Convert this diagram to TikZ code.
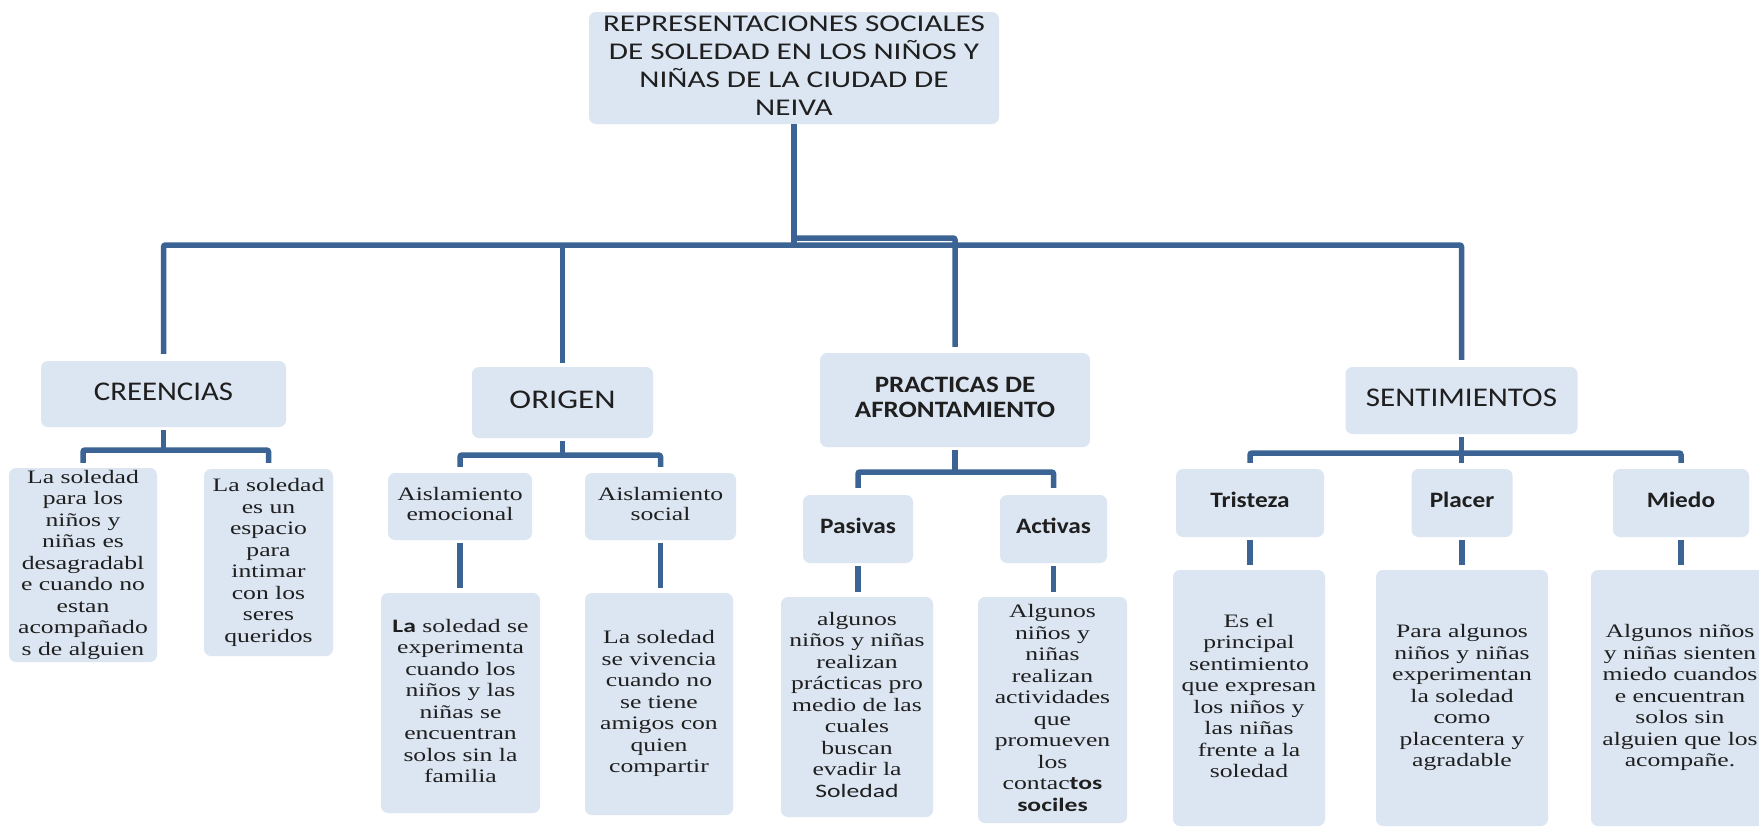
\documentclass[tikz,border=0pt]{standalone}
\usepackage{fontspec}
\usepackage{graphicx}
\setmainfont{Liberation Serif}
\newfontfamily\calibri{Carlito}
\definecolor{boxfill}{RGB}{220,230,242}
\definecolor{linec}{RGB}{59,99,148}
\newcommand{\sx}[2]{\scalebox{#1}[1]{\begin{tabular}{@{}c@{}}#2\end{tabular}}}
\tikzset{
  box/.style={fill=boxfill, draw=none, rounded corners=7pt, inner sep=0pt, text=black!88},
  conn/.style={draw=linec, line width=5.5pt, rounded corners=2pt},
  ttl/.style={font=\calibri\fontsize{24}{28}\selectfont},
  lvone/.style={font=\calibri\fontsize{27}{30}\selectfont},
  lvbold/.style={font=\calibri\bfseries\fontsize{23.5}{25}\selectfont},
  lvtwo/.style={font=\calibri\bfseries\fontsize{22}{24}\selectfont},
  leaf/.style={font=\fontsize{19}{21.5}\selectfont},
  sub/.style={font=\fontsize{19}{20}\selectfont},
}
\begin{document}
\begin{tikzpicture}[x=1pt,y=-1pt]
\useasboundingbox (0,0) rectangle (1759,828);
\clip (0,0) rectangle (1759,828);
\fill[white] (0,0) rectangle (1759,828);

% title
\node[box, ttl, minimum width=410pt, minimum height=112pt] (title) at (794,68)
  {\sx{1.3}{REPRESENTACIONES SOCIALES\\DE SOLEDAD EN  LOS NIÑOS Y\\NIÑAS DE LA CIUDAD DE\\NEIVA}};

% level one
\node[box, lvone, minimum width=245pt, minimum height=66pt] (cre) at (163.5,394) {\sx{1.14}{CREENCIAS}};
\node[box, lvone, minimum width=181pt, minimum height=71pt] (ori) at (562.5,402.5) {\sx{1.22}{ORIGEN}};
\node[box, lvbold, minimum width=270pt, minimum height=94pt] (pra) at (955,400) {\sx{1.15}{PRACTICAS DE\\AFRONTAMIENTO}};
\node[box, lvone, minimum width=232pt, minimum height=67pt] (sen) at (1461.5,400.5) {\sx{1.15}{SENTIMIENTOS}};

% creencias leaves
\node[box, leaf, minimum width=148pt, minimum height=194pt] (c1) at (83,565)
  {\sx{1.35}{La soledad\\para los\\niños y\\niñas es\\desagradabl\\e cuando  no\\estan\\acompañado\\s de alguien}};
\node[box, leaf, minimum width=129pt, minimum height=187pt] (c2) at (268.5,562.5)
  {\sx{1.35}{La soledad\\es un\\espacio\\para\\intimar\\con los\\seres\\queridos}};

% origen
\node[box, sub, minimum width=144pt, minimum height=67pt] (emo) at (460,506.5) {\sx{1.35}{Aislamiento\\emocional}};
\node[box, sub, minimum width=151pt, minimum height=67pt] (soc) at (660.5,506.5) {\sx{1.35}{Aislamiento\\social}};
\node[box, leaf, minimum width=159pt, minimum height=220pt] (emoL) at (460.5,703)
  {\sx{1.35}{{\calibri\bfseries La} soledad se\\experimenta\\cuando  los\\niños y las\\niñas se\\encuentran\\solos sin la\\familia}};
\node[box, leaf, minimum width=148pt, minimum height=222pt] (socL) at (659,704)
  {\sx{1.35}{La soledad\\se vivencia\\cuando no\\se tiene\\amigos con\\quien\\compartir}};

% practicas
\node[box, lvtwo, minimum width=110pt, minimum height=68pt] (pas) at (858,529) {\sx{1.15}{Pasivas}};
\node[box, lvtwo, minimum width=107pt, minimum height=68pt] (act) at (1053.5,529) {\sx{1.15}{Activas}};
\node[box, leaf, minimum width=152pt, minimum height=220pt] (pasL) at (857,707)
  {\sx{1.35}{algunos\\niños y niñas\\realizan\\prácticas pro\\medio de las\\cuales\\buscan\\evadir la\\{\calibri Soledad}}};
\node[box, leaf, minimum width=149pt, minimum height=226pt] (actL) at (1052.5,710)
  {\sx{1.35}{Algunos\\niños y\\niñas\\realizan\\actividades\\que\\promueven\\los\\contac{\calibri\bfseries tos}\\{\calibri\bfseries sociles}}};

% sentimientos
\node[box, lvtwo, minimum width=148pt, minimum height=68pt] (tri) at (1250,503) {\sx{1.15}{Tristeza}};
\node[box, lvtwo, minimum width=101pt, minimum height=68pt] (pla) at (1462,503) {\sx{1.15}{Placer}};
\node[box, lvtwo, minimum width=136pt, minimum height=68pt] (mie) at (1681,503) {\sx{1.15}{Miedo}};
\node[box, leaf, minimum width=152pt, minimum height=256pt] (triL) at (1249,698)
  {\sx{1.35}{Es el\\principal\\sentimiento\\que expresan\\los niños y\\las niñas\\frente a  la\\soledad}};
\node[box, leaf, minimum width=172pt, minimum height=256pt] (plaL) at (1462,698)
  {\sx{1.35}{Para algunos\\niños y niñas\\experimentan\\la soledad\\como\\placentera y\\agradable}};
\node[box, leaf, minimum width=178pt, minimum height=256pt] (mieL) at (1680,698)
  {\sx{1.35}{Algunos niños\\y niñas sienten\\miedo cuandos\\e encuentran\\solos sin\\alguien que los\\acompañe.}};

% main connectors
\coordinate (bus) at (0,245);
\coordinate (bustwo) at (0,238);
\draw[conn] ([yshift=7pt]cre.north) |- (sen.north |- bus) -- ([yshift=7pt]sen.north);
\draw[conn] (title.south) -- ([yshift=-2pt]title.south |- bus);
\draw[conn] ([yshift=4pt]ori.north) -- (ori.north |- bus);
\draw[conn] (title.south |- bustwo) -| ([yshift=6pt]pra.north);

% creencias subtree
\coordinate (ybc) at (0,450);
\draw[conn] ([yshift=-3pt]cre.south) -- (cre.south |- ybc);
\draw[conn] ([yshift=5pt]c1.north) |- (c2.north |- ybc) -- ([yshift=6pt]c2.north);

% origen subtree
\coordinate (ybo) at (0,455);
\draw[conn] ([yshift=-3pt]ori.south) -- (ori.south |- ybo);
\draw[conn] ([yshift=6pt]emo.north) |- (soc.north |- ybo) -- ([yshift=6pt]soc.north);
\draw[conn] ([yshift=-3pt]emo.south) -- ([yshift=5pt]emo.south |- emoL.north);
\draw[conn] ([yshift=-3pt]soc.south) -- ([yshift=5pt]soc.south |- socL.north);

% practicas subtree
\coordinate (ybp) at (0,472);
\draw[conn] ([yshift=-3pt]pra.south) -- (pra.south |- ybp);
\draw[conn] ([yshift=7pt]pas.north) |- (act.north |- ybp) -- ([yshift=7pt]act.north);
\draw[conn] ([yshift=-3pt]pas.south) -- ([yshift=5pt]pas.south |- pasL.north);
\draw[conn] ([yshift=-3pt]act.south) -- ([yshift=5pt]act.south |- actL.north);

% sentimientos subtree
\coordinate (ybs) at (0,453);
\draw[conn] ([yshift=-3pt]sen.south) -- ([yshift=6pt]sen.south |- pla.north);
\draw[conn] ([yshift=6pt]tri.north) |- (mie.north |- ybs) -- ([yshift=6pt]mie.north);
\draw[conn] ([yshift=-3pt]tri.south) -- ([yshift=5pt]tri.south |- triL.north);
\draw[conn] ([yshift=-3pt]pla.south) -- ([yshift=5pt]pla.south |- plaL.north);
\draw[conn] ([yshift=-3pt]mie.south) -- ([yshift=5pt]mie.south |- mieL.north);
\end{tikzpicture}
\end{document}
